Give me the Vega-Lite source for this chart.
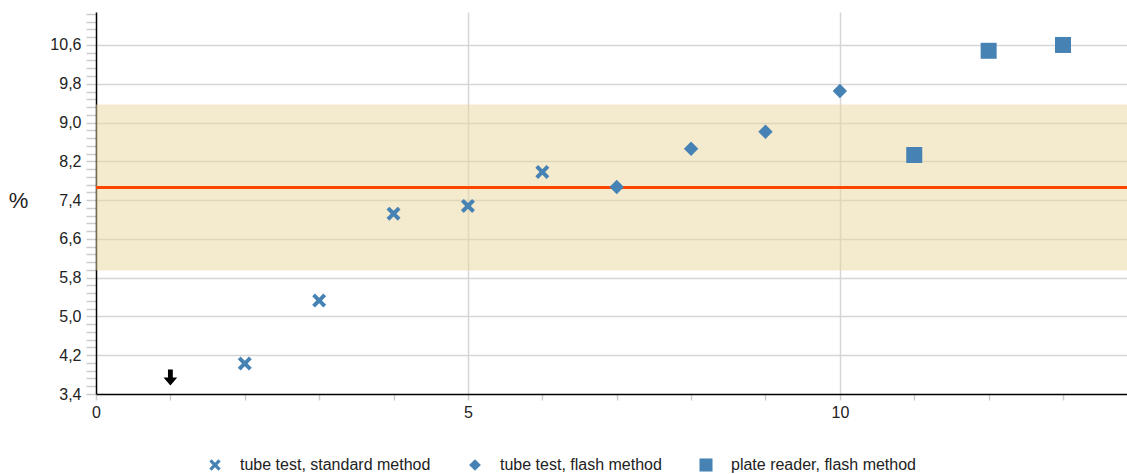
{
  "$schema": "https://vega.github.io/schema/vega-lite/v6.json",
  "width": 1031,
  "height": 382,
  "autosize": "none",
  "padding": {"left": 96, "top": 12, "right": 0, "bottom": 80},
  "background": "white",
  "config": {
    "view": {"stroke": null},
    "font": "Liberation Sans",
    "axis": {"labelFont": "Liberation Sans", "titleFont": "Liberation Sans"},
    "legend": {"labelFont": "Liberation Sans"}
  },
  "datasets": {
    "pts": [
      {"run": 2, "value": 4.03, "method": "tube test, standard method"},
      {"run": 3, "value": 5.33, "method": "tube test, standard method"},
      {"run": 4, "value": 7.12, "method": "tube test, standard method"},
      {"run": 5, "value": 7.28, "method": "tube test, standard method"},
      {"run": 6, "value": 7.98, "method": "tube test, standard method"},
      {"run": 7, "value": 7.67, "method": "tube test, flash method"},
      {"run": 8, "value": 8.46, "method": "tube test, flash method"},
      {"run": 9, "value": 8.81, "method": "tube test, flash method"},
      {"run": 10, "value": 9.65, "method": "tube test, flash method"},
      {"run": 11, "value": 8.33, "method": "plate reader, flash method"},
      {"run": 12, "value": 10.48, "method": "plate reader, flash method"},
      {"run": 13, "value": 10.6, "method": "plate reader, flash method"}
    ],
    "below": [{"run": 1, "value": 3.74}],
    "ref": [{"lo": 5.95, "hi": 9.37, "mean": 7.66}]
  },
  "layer": [
    {
      "data": {"name": "ref"},
      "mark": {"type": "rect", "color": "#E9D59B", "opacity": 0.5},
      "encoding": {
        "y": {"field": "lo", "type": "quantitative"},
        "y2": {"field": "hi"}
      }
    },
    {
      "data": {"name": "ref"},
      "mark": {"type": "rule", "color": "#FF4500", "strokeWidth": 3},
      "encoding": {
        "y": {"field": "mean", "type": "quantitative"}
      }
    },
    {
      "data": {"name": "pts"},
      "mark": {"type": "point", "filled": true, "opacity": 1, "size": 256},
      "encoding": {
        "x": {
          "field": "run", "type": "quantitative",
          "scale": {"domain": [0, 13.86], "nice": false, "zero": false},
          "axis": {
            "title": null,
            "values": [0,1,2,3,4,5,6,7,8,9,10,11,12,13],
            "tickCount": 200,
            "labelExpr": "datum.value % 5 === 0 ? format(datum.value, 'd') : ''",
            "labelFontSize": 16,
            "labelColor": "#222",
            "labelPadding": 4,
            "labelOverlap": false,
            "labelBound": false,
            "labelFlush": false,
            "tickSize": 6,
            "tickColor": "#cccccc",
            "tickWidth": 1.5,
            "domainColor": "black",
            "domainWidth": 1.5,
            "grid": true,
            "gridColor": "#d6d6d6",
            "gridWidth": 1.5,
            "gridOpacity": {"condition": {"test": "datum.value === 5 || datum.value === 10", "value": 1}, "value": 0}
          }
        },
        "y": {
          "field": "value", "type": "quantitative",
          "scale": {"domain": [3.4, 11.28], "nice": false, "zero": false},
          "axis": {
            "title": "%",
            "titleAngle": 0,
            "titleFontSize": 22,
            "titleFontWeight": "normal",
            "titleColor": "#222",
            "titleX": -78,
            "titleY": 188,
            "titleAlign": "center",
            "titleBaseline": "middle",
            "values": [3.4,3.56,3.72,3.88,4.04,4.2,4.36,4.52,4.68,4.84,5.0,5.16,5.32,5.48,5.64,5.8,5.96,6.12,6.28,6.44,6.6,6.76,6.92,7.08,7.24,7.4,7.56,7.72,7.88,8.04,8.2,8.36,8.52,8.68,8.84,9.0,9.16,9.32,9.48,9.64,9.8,9.96,10.12,10.28,10.44,10.6,10.76,10.92,11.08,11.24],
            "tickCount": 200,
            "labelExpr": "abs((datum.value-3.4)/0.8 - round((datum.value-3.4)/0.8)) < 0.01 ? replace(format(datum.value, '.1f'), '.', ',') : ''",
            "labelFontSize": 16,
            "labelColor": "#222",
            "labelPadding": 5,
            "labelBound": false,
            "labelOverlap": false,
            "tickSize": 10,
            "tickColor": "#cccccc",
            "tickWidth": 1.5,
            "domainColor": "black",
            "domainWidth": 1.5,
            "grid": true,
            "gridColor": "#d6d6d6",
            "gridWidth": 1.5,
            "gridOpacity": {"condition": {"test": "abs((datum.value-3.4)/0.8 - round((datum.value-3.4)/0.8)) < 0.01 && datum.value > 3.5", "value": 1}, "value": 0}
          }
        },
        "shape": {
          "field": "method", "type": "nominal",
          "scale": {
            "domain": ["tube test, standard method", "tube test, flash method", "plate reader, flash method"],
            "range": [
              "M-0.875,-0.525 L-0.525,-0.875 L0,-0.35 L0.525,-0.875 L0.875,-0.525 L0.35,0 L0.875,0.525 L0.525,0.875 L0,0.35 L-0.525,0.875 L-0.875,0.525 L-0.35,0 Z",
              "M-0.9,0 L0,-0.9 L0.9,0 L0,0.9 Z",
              "M-1,-1 L1,-1 L1,1 L-1,1 Z"
            ]
          },
          "legend": {
            "title": null,
            "orient": "none",
            "direction": "horizontal",
            "legendX": 111,
            "legendY": 445,
            "padding": 0,
            "symbolSize": 170,
            "symbolFillColor": "#4682B4",
            "symbolStrokeWidth": 0,
            "labelFontSize": 16,
            "labelColor": "#222",
            "labelOffset": 17,
            "labelLimit": 500,
            "columnPadding": 36,
            "symbolOpacity": 1
          }
        },
        "color": {
          "field": "method", "type": "nominal",
          "scale": {"range": ["#4682B4"]},
          "legend": null
        }
      }
    },
    {
      "data": {"name": "below"},
      "mark": {
        "type": "point", "filled": true, "opacity": 1, "color": "black", "size": 260,
        "shape": "M-0.3,-1 L0.3,-1 L0.3,0 L0.85,0 L0,1 L-0.85,0 L-0.3,0 Z"
      },
      "encoding": {
        "x": {"field": "run", "type": "quantitative"},
        "y": {"field": "value", "type": "quantitative"}
      }
    }
  ]
}
